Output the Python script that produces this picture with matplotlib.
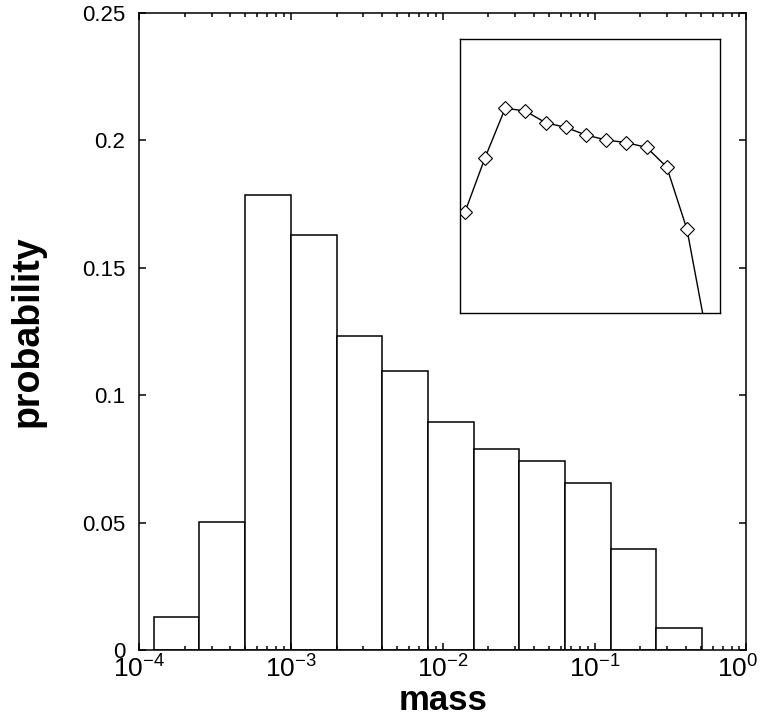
import matplotlib
matplotlib.use('Agg')
import math
import matplotlib.pyplot as plt
import matplotlib.transforms as mtransforms
from matplotlib.ticker import LogLocator, FixedLocator, FuncFormatter

plt.rcParams['font.family'] = ['Liberation Sans', 'DejaVu Sans']
plt.rcParams['mathtext.fontset'] = 'custom'
plt.rcParams['mathtext.rm'] = 'Liberation Sans'
plt.rcParams['mathtext.it'] = 'Liberation Sans:italic'
plt.rcParams['mathtext.bf'] = 'Liberation Sans:bold'

# histogram bins (mass) and probabilities
bin_edges = [1.25e-4, 2.5e-4, 5e-4, 1e-3, 2e-3, 4e-3, 8e-3, 1.6e-2,
             3.2e-2, 6.4e-2, 0.128, 0.256, 0.512]
probability = [0.013, 0.0504, 0.1786, 0.163, 0.1234, 0.1095, 0.0896,
               0.0788, 0.0743, 0.0656, 0.0395, 0.0085]
ytick_vals = [0, 0.05, 0.1, 0.15, 0.2, 0.25]
ytick_labels = ['0', '0.05', '0.1', '0.15', '0.2', '0.25']

# inset curve (arbitrary units)
inset_mass = [1.77e-4, 3.54e-4, 7.07e-4, 1.41e-3, 2.83e-3, 5.66e-3, 1.13e-2,
              2.26e-2, 4.53e-2, 9.05e-2, 0.181, 0.362, 0.724]
inset_val = [0.367, 0.567, 0.748, 0.738, 0.695, 0.678, 0.650,
             0.632, 0.622, 0.605, 0.533, 0.305, -0.09]

fig = plt.figure(figsize=(7.6, 7.25), dpi=100)
ax = fig.add_axes([0.183, 0.1034, 0.799, 0.8786])

lefts = bin_edges[:-1]
widths = [b - a for a, b in zip(bin_edges[:-1], bin_edges[1:])]
ax.bar(lefts, probability, width=widths, align='edge', facecolor='white',
       edgecolor='black', linewidth=1.1)

ax.set_xscale('log')
ax.set_xlim(1e-4, 1)
ax.set_ylim(0, 0.25)
ax.yaxis.set_major_locator(FixedLocator(ytick_vals))
ax.set_yticklabels(ytick_labels)
ax.xaxis.set_major_locator(FixedLocator([1e-4, 1e-3, 1e-2, 1e-1, 1]))
ax.xaxis.set_minor_locator(LogLocator(base=10, subs=range(2, 10), numticks=20))

def exp_fmt(v, pos):
    return r'$\mathregular{10^{%d}}$' % round(math.log10(v))
ax.xaxis.set_major_formatter(FuncFormatter(exp_fmt))

ax.tick_params(which='both', direction='in', top=True, right=True, width=1.1)
ax.tick_params(which='major', length=5)
ax.tick_params(which='minor', length=3)
ax.tick_params(axis='y', labelsize=16, pad=10)
ax.tick_params(axis='x', labelsize=19, pad=4)
for s in ax.spines.values():
    s.set_linewidth(1.1)

# nudge the last x label so it stays inside the figure
last = ax.get_xticklabels()[-1]
last.set_transform(last.get_transform() +
                   mtransforms.ScaledTranslation(-6 / 72, 0, fig.dpi_scale_trans))

ax.set_xlabel('mass', fontsize=25, fontweight='bold', labelpad=1)
ax.set_ylabel('probability', fontsize=27, fontweight='bold', labelpad=26)

# inset
ins = fig.add_axes([0.605, 0.5687, 0.343, 0.377])
ins.plot(inset_mass, inset_val, color='black', linewidth=1.0,
         marker='D', markersize=7, markerfacecolor='white',
         markeredgecolor='black', markeredgewidth=0.8)
ins.set_xscale('log')
ins.set_xlim(1.488e-4, 1.144)
ins.set_ylim(0, 1)
ins.set_xticks([])
ins.set_yticks([])
ins.minorticks_off()
for s in ins.spines.values():
    s.set_linewidth(1.0)

fig.savefig('out.png', dpi=100)
